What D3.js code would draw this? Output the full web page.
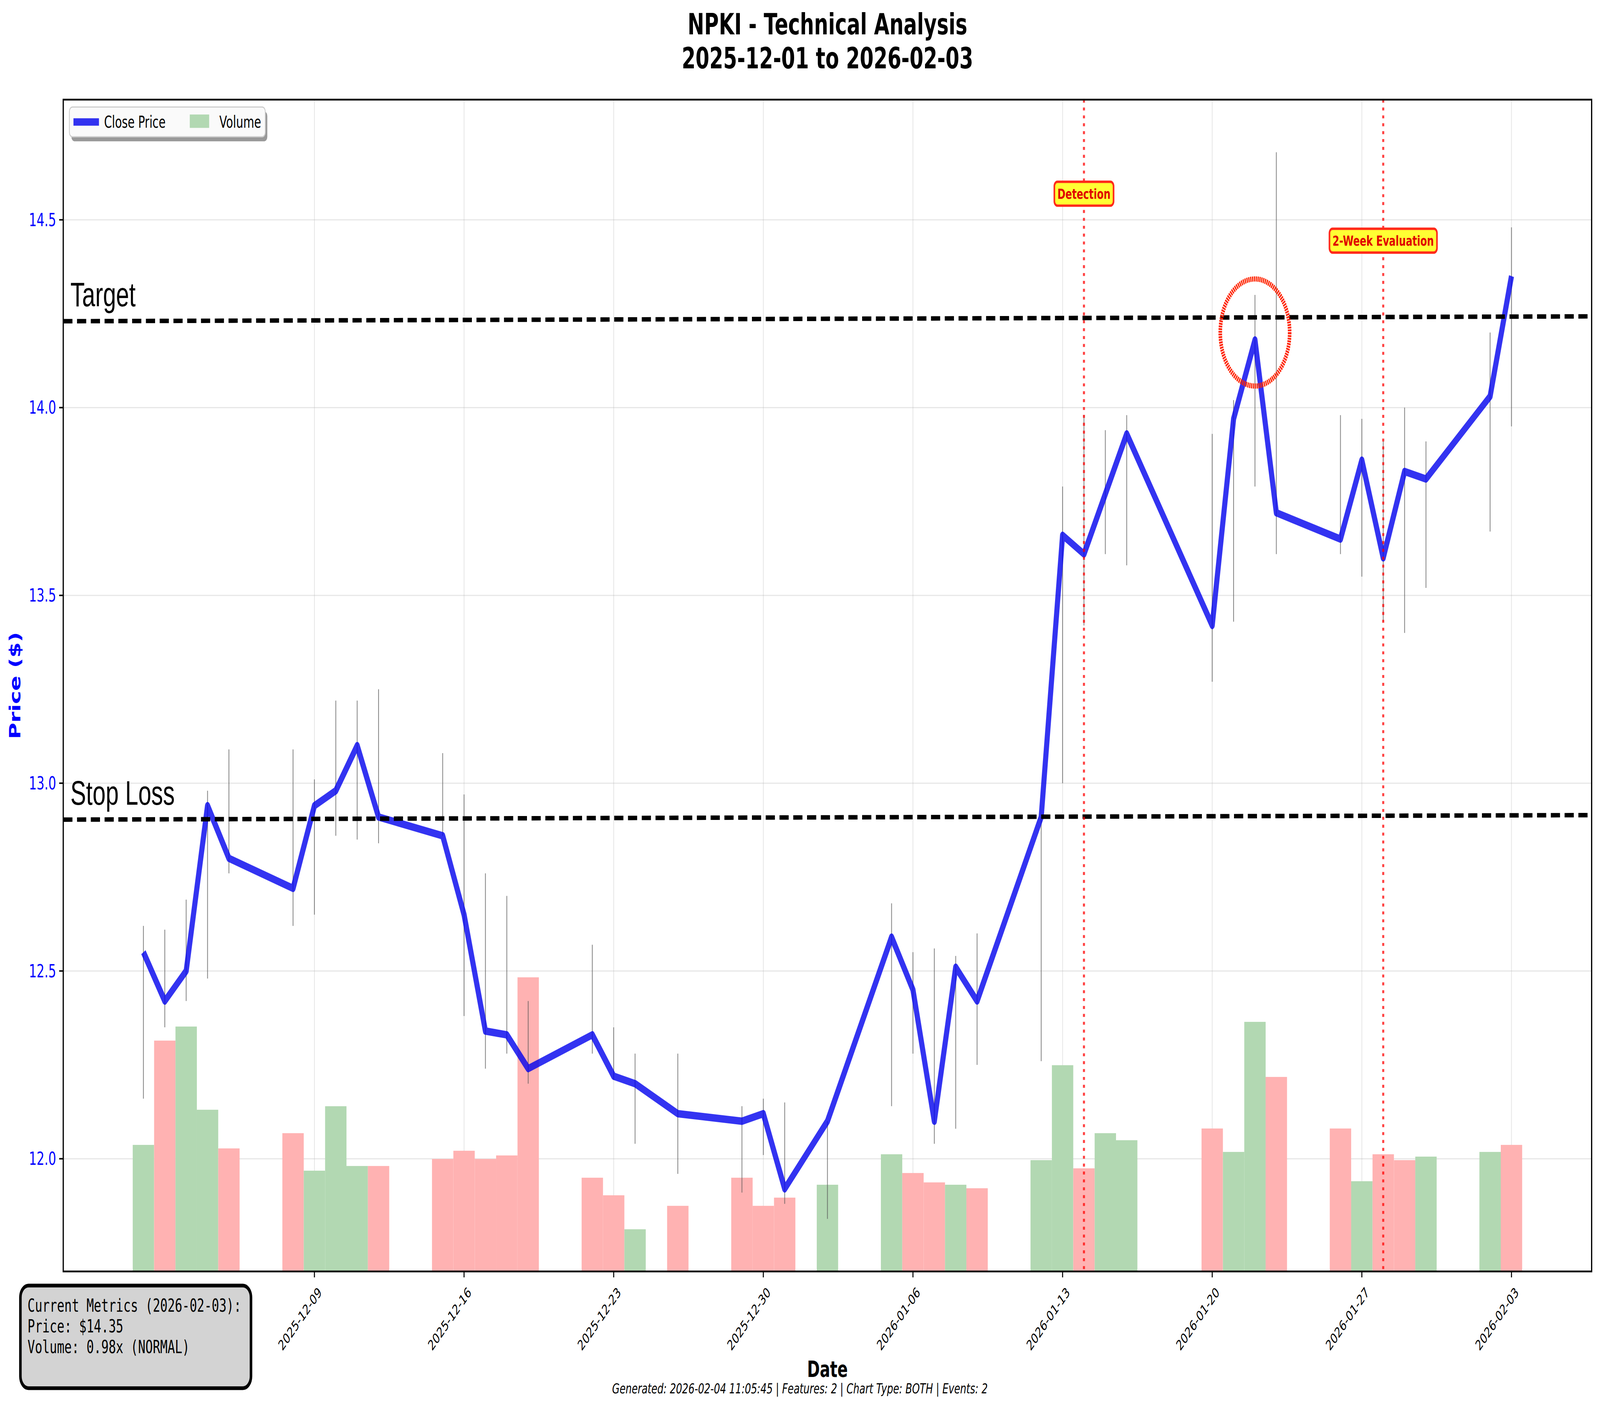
<!DOCTYPE html>
<html><head><meta charset="utf-8">
<script src="https://cdn.jsdelivr.net/npm/d3@7"></script>
<style>html,body{margin:0;padding:0;background:#fff;overflow:hidden;width:100%;height:100%}svg{display:block}</style></head>
<body><svg id="c"></svg>
<script>
const dates=["2025-12-01","2025-12-02","2025-12-03","2025-12-04","2025-12-05","2025-12-08","2025-12-09","2025-12-10","2025-12-11","2025-12-12","2025-12-15","2025-12-16","2025-12-17","2025-12-18","2025-12-19","2025-12-22","2025-12-23","2025-12-24","2025-12-26","2025-12-29","2025-12-30","2025-12-31","2026-01-02","2026-01-05","2026-01-06","2026-01-07","2026-01-08","2026-01-09","2026-01-12","2026-01-13","2026-01-14","2026-01-15","2026-01-16","2026-01-20","2026-01-21","2026-01-22","2026-01-23","2026-01-26","2026-01-27","2026-01-28","2026-01-29","2026-01-30","2026-02-02","2026-02-03"];
const close=[12.55,12.42,12.50,12.94,12.80,12.72,12.94,12.98,13.10,12.91,12.86,12.65,12.34,12.33,12.24,12.33,12.22,12.20,12.12,12.10,12.12,11.92,12.10,12.59,12.45,12.10,12.51,12.42,12.91,13.66,13.61,13.77,13.93,13.42,13.97,14.18,13.72,13.65,13.86,13.60,13.83,13.81,14.03,14.35];
const high=[12.62,12.61,12.69,12.98,13.09,13.09,13.01,13.22,13.22,13.25,13.08,12.97,12.76,12.70,12.42,12.57,12.35,12.28,12.28,12.14,12.16,12.15,12.10,12.68,12.55,12.56,12.54,12.60,12.91,13.79,13.98,13.94,13.98,13.93,14.02,14.30,14.68,13.98,13.97,13.91,14.00,13.91,14.20,14.48];
const low=[12.16,12.35,12.42,12.48,12.76,12.62,12.65,12.86,12.85,12.84,12.86,12.38,12.24,12.28,12.20,12.28,12.21,12.04,11.96,11.91,12.01,11.88,11.84,12.14,12.28,12.04,12.08,12.25,12.26,13.00,13.42,13.61,13.58,13.27,13.43,13.79,13.61,13.61,13.55,13.43,13.40,13.52,13.67,13.95];
const volume=[108,197,209,138,105,118,86,141,90,90,96,103,96,99,251,80,65,36,56,80,56,63,74,100,84,76,74,71,95,176,88,118,112,122,102,213,166,122,77,100,95,98,102,108];
const volUp=[1,0,1,1,0,0,1,1,1,0,0,0,0,0,0,0,0,1,0,0,0,0,1,1,0,0,1,0,1,1,0,1,1,0,1,1,0,0,1,0,0,1,1,0];
const yTicks=[12.0,12.5,13.0,13.5,14.0,14.5];
const xTicks=["2025-12-09","2025-12-16","2025-12-23","2025-12-30","2026-01-06","2026-01-13","2026-01-20","2026-01-27","2026-02-03"];
const targetLine=[14.23,14.243], stopLine=[12.903,12.915];
const events=[{date:"2026-01-14",label:"Detection",y:14.57},{date:"2026-01-28",label:"2-Week Evaluation",y:14.445}];
const circleAt={date:"2026-01-22",price:14.20};

const W=1568.2,H=947.5;
const svg=d3.select("#c").attr("width","100vw").attr("height","100vh").attr("viewBox",`0 0 ${W} ${H}`).attr("preserveAspectRatio","none");
const L=62,R=1560,T=67,B=855;
const P=s=>new Date(s+"T00:00:00Z");
const x=d3.scaleUtc().domain([Date.UTC(2025,10,27,6),Date.UTC(2026,1,6,18)]).range([L,R]);
const y=d3.scaleLinear().domain([11.70,14.82]).range([B,T]);
const v=d3.scaleLinear().domain([0,1000]).range([B,T]);
const day=x(P("2025-12-02"))-x(P("2025-12-01"));
const F="DejaVu Sans";
const g=svg.append("g");
g.selectAll(".gx").data(xTicks).join("line").attr("x1",d=>x(P(d))).attr("x2",d=>x(P(d))).attr("y1",T).attr("y2",B).attr("stroke","#b0b0b0").attr("stroke-opacity",0.3).attr("stroke-width",0.8);
g.selectAll(".gy").data(yTicks).join("line").attr("y1",d=>y(d)).attr("y2",d=>y(d)).attr("x1",L).attr("x2",R).attr("stroke","#b0b0b0").attr("stroke-opacity",0.3).attr("stroke-width",0.8);
g.selectAll(".vb").data(dates).join("rect").attr("x",(d,i)=>x(P(d))-day/2).attr("width",day).attr("y",(d,i)=>v(volume[i])).attr("height",(d,i)=>B-v(volume[i])).attr("fill",(d,i)=>volUp[i]?"#b2d8b2":"#ffb2b2");
g.selectAll(".wk").data(dates).join("line").attr("x1",d=>x(P(d))).attr("x2",d=>x(P(d))).attr("y1",(d,i)=>y(high[i])).attr("y2",(d,i)=>y(low[i])).attr("stroke","#555").attr("stroke-opacity",0.7).attr("stroke-width",0.8);
g.append("path").datum(dates).attr("fill","none").attr("stroke","#0000ee").attr("stroke-opacity",0.8).attr("stroke-width",5).attr("stroke-linejoin","round")
 .attr("d",d3.line().x(d=>x(P(d))).y((d,i)=>y(close[i])));
[[targetLine,"Target"],[stopLine,"Stop Loss"]].forEach(([ln,lab])=>{
 g.append("line").attr("x1",L).attr("x2",R).attr("y1",y(ln[0])).attr("y2",y(ln[1])).attr("stroke","#000").attr("stroke-width",3).attr("stroke-dasharray","9,4.5");
 g.append("text").attr("x",69).attr("y",y(ln[0])-10).attr("font-family","Liberation Sans, Arial").attr("font-size",23).text(lab);
});
events.forEach(e=>{
 const ex=x(P(e.date));
 g.append("line").attr("x1",ex).attr("x2",ex).attr("y1",T).attr("y2",B).attr("stroke","#ff0000").attr("stroke-opacity",0.75).attr("stroke-width",2).attr("stroke-dasharray","2,3.3");
 const t=g.append("text").attr("x",ex).attr("y",y(e.y)+3.5).attr("text-anchor","middle").attr("font-family",F).attr("font-weight","bold").attr("font-size",9.5).attr("fill","#e00000").text(e.label);
 const bb=t.node().getBBox();
 g.insert("rect",()=>t.node()).attr("x",bb.x-3).attr("y",bb.y-2.5).attr("width",bb.width+6).attr("height",bb.height+5).attr("rx",3).attr("fill","#ffff33").attr("stroke","#ff2a1a").attr("stroke-width",1.6);
});
g.append("ellipse").attr("cx",x(P(circleAt.date))).attr("cy",y(circleAt.price)).attr("rx",34).attr("ry",36).attr("fill","none").attr("stroke","#ff2200").attr("stroke-width",3.5).attr("stroke-dasharray","1.2,0.6");
g.append("rect").attr("x",L).attr("y",T).attr("width",R-L).attr("height",B-T).attr("fill","none").attr("stroke","#000").attr("stroke-width",1.2);
const yt=g.selectAll(".yt").data(yTicks).join("g").attr("transform",d=>`translate(${L},${y(d)})`);
yt.append("line").attr("x2",-4).attr("stroke","#000");
yt.append("text").attr("x",-7).attr("dy","0.35em").attr("text-anchor","end").attr("font-family",F).attr("font-size",12).attr("fill","#0000ff").text(d=>d.toFixed(1));
const xt=g.selectAll(".xt").data(xTicks).join("g").attr("transform",d=>`translate(${x(P(d))},${B})`);
xt.append("line").attr("y2",4).attr("stroke","#000");
xt.append("text").attr("transform","translate(3,10) rotate(-45)").attr("text-anchor","end").attr("dy","0.7em").attr("font-family",F).attr("font-size",9.5).text(d=>d);
svg.append("text").attr("x",(L+R)/2).attr("y",23).attr("text-anchor","middle").attr("font-family",F).attr("font-weight","bold").attr("font-size",19.5).text("NPKI - Technical Analysis");
svg.append("text").attr("x",(L+R)/2).attr("y",46).attr("text-anchor","middle").attr("font-family",F).attr("font-weight","bold").attr("font-size",19.5).text("2025-12-01 to 2026-02-03");
svg.append("text").attr("transform",`translate(20,${(T+B)/2}) rotate(-90)`).attr("text-anchor","middle").attr("font-family",F).attr("font-weight","bold").attr("font-size",15).attr("fill","#0000ff").text("Price ($)");
svg.append("text").attr("x",(L+R)/2).attr("y",926).attr("text-anchor","middle").attr("font-family",F).attr("font-weight","bold").attr("font-size",15).text("Date");
svg.append("text").attr("x",784).attr("y",937).attr("text-anchor","middle").attr("font-family",F).attr("font-style","italic").attr("font-size",9.5).text("Generated: 2026-02-04 11:05:45 | Features: 2 | Chart Type: BOTH | Events: 2");
const lg=svg.append("g");
lg.append("rect").attr("x",70).attr("y",75).attr("width",192).attr("height",20).attr("rx",3).attr("fill","#999");
lg.append("rect").attr("x",68).attr("y",72).attr("width",192).attr("height",20).attr("rx",3).attr("fill","#fafafa").attr("stroke","#ccc").attr("stroke-width",0.8);
lg.append("line").attr("x1",72).attr("x2",97).attr("y1",82).attr("y2",82).attr("stroke","#0000ee").attr("stroke-opacity",0.8).attr("stroke-width",5);
lg.append("text").attr("x",102).attr("y",86).attr("font-family",F).attr("font-size",11).text("Close Price");
lg.append("rect").attr("x",186).attr("y",77).attr("width",19).attr("height",9).attr("fill","#b2d8b2");
lg.append("text").attr("x",215).attr("y",86).attr("font-family",F).attr("font-size",11).text("Volume");
svg.append("rect").attr("x",20).attr("y",864.5).attr("width",226).attr("height",69).attr("rx",8).attr("fill","#d3d3d3").attr("stroke","#000").attr("stroke-width",2.5);
["Current Metrics (2026-02-03):","Price: $14.35","Volume: 0.98x (NORMAL)"].forEach((s,i)=>
 svg.append("text").attr("x",27).attr("y",882+i*14).attr("font-family","DejaVu Sans Mono").attr("font-size",12).text(s));
</script></body></html>
